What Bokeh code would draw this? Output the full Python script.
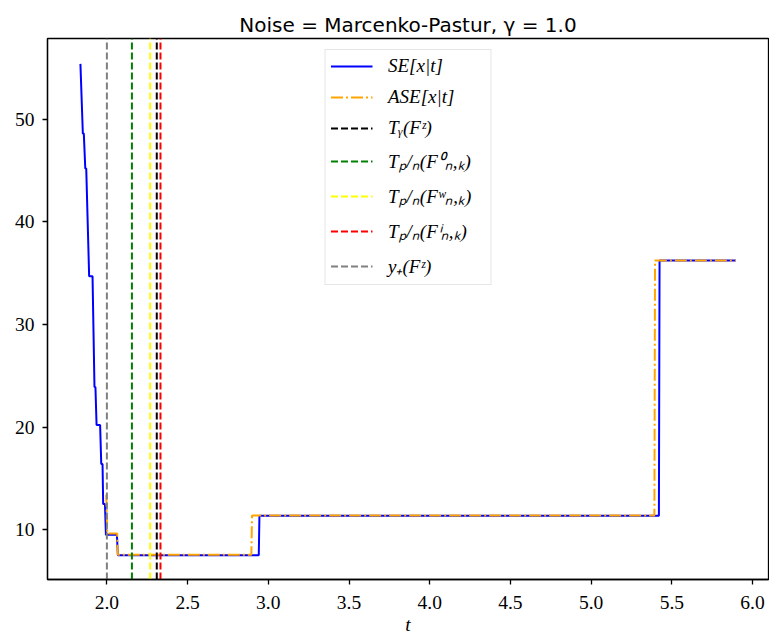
from bokeh.plotting import figure
from bokeh.models import Range1d, FixedTicker, Legend, LegendItem, NumeralTickFormatter
from bokeh.embed import file_html
from bokeh.resources import INLINE

# SE[x|t] curve (vertices)
se_t = [1.836, 1.851, 1.857, 1.866, 1.872, 1.890, 1.911, 1.923, 1.929, 1.936,
        1.958, 1.965, 1.973, 1.977, 1.988, 1.994, 2.062, 2.068, 2.941, 2.945,
        5.420, 5.424, 5.897]
se_y = [55.4, 48.6, 48.6, 45.2, 45.2, 34.7, 34.7, 23.9, 23.9, 20.2,
        20.2, 16.4, 16.4, 12.5, 12.5, 9.49, 9.49, 7.5, 7.5, 11.35,
        11.35, 36.23, 36.23]

# ASE[x|t] curve
ase_t = [1.996, 2.002, 2.064, 2.068, 2.895, 2.899, 5.392, 5.396, 5.897]
ase_y = [13.4, 9.62, 9.62, 7.55, 7.55, 11.38, 11.38, 36.23, 36.23]

# thresholds (vertical lines)
thr_labels = ["Tᵧ(Fᶻ)", "Tₚ/ₙ(F⁰ₙ,ₖ)", "Tₚ/ₙ(Fʷₙ,ₖ)", "Tₚ/ₙ(Fⁱₙ,ₖ)", "y₊(Fᶻ)"]
thr_values = [2.309, 2.155, 2.268, 2.332, 2.0]
thr_colors = ["black", "green", "yellow", "red", "gray"]

x_ticks = [2.0, 2.5, 3.0, 3.5, 4.0, 4.5, 5.0, 5.5, 6.0]
y_ticks = [10, 20, 30, 40, 50]
x_lim = (1.632, 6.099)
y_lim = (5.14, 57.87)

serif = "Liberation Serif"

p = figure(width=769, height=638, output_backend="svg", toolbar_location=None,
           x_range=Range1d(*x_lim), y_range=Range1d(*y_lim),
           min_border_left=47, min_border_right=1, min_border_top=38, min_border_bottom=59)

p.title.text = "Noise = Marcenko-Pastur, γ = 1.0"
p.title.align = "center"
p.title.text_font = "DejaVu Sans"
p.title.text_font_size = "20px"
p.title.text_font_style = "normal"
p.title.text_color = "black"
p.title.standoff = 4

p.grid.visible = False
p.outline_line_color = "black"
p.outline_line_width = 1.3
p.outline_line_alpha = 1.0

for ax in (p.xaxis[0], p.yaxis[0]):
    ax.axis_line_color = "black"
    ax.axis_line_width = 1.3
    ax.major_tick_line_color = "black"
    ax.major_tick_line_width = 1.3
    ax.major_tick_out = 5
    ax.major_tick_in = 0
    ax.minor_tick_line_color = None
    ax.major_label_text_font = serif
    ax.major_label_text_font_size = "19.5px"
    ax.major_label_text_color = "black"

p.xaxis.ticker = FixedTicker(ticks=x_ticks)
p.yaxis.ticker = FixedTicker(ticks=y_ticks)
p.xaxis.formatter = NumeralTickFormatter(format="0.0")
p.yaxis.formatter = NumeralTickFormatter(format="0")
p.xaxis.major_label_standoff = 11
p.yaxis.major_label_standoff = 8
p.xaxis.axis_label = "t"
p.xaxis.axis_label_text_font = serif
p.xaxis.axis_label_text_font_style = "italic"
p.xaxis.axis_label_text_font_size = "19.5px"
p.xaxis.axis_label_text_color = "black"
p.xaxis.axis_label_standoff = 2

r_se = p.line(se_t, se_y, line_color="blue", line_width=2)
r_ase = p.line(ase_t, ase_y, line_color="orange", line_width=2, line_dash="12 3 2 3")

items = [LegendItem(label="SE[x|t]", renderers=[r_se]),
         LegendItem(label="ASE[x|t]", renderers=[r_ase])]
for lab, v, c in zip(thr_labels, thr_values, thr_colors):
    r = p.segment(x0=[v], y0=[y_lim[0]], x1=[v], y1=[y_lim[1]],
                  line_color=c, line_width=2, line_dash="7 3")
    items.append(LegendItem(label=lab, renderers=[r]))

legend = Legend(items=items, location="top_center")
legend.label_text_font = serif
legend.label_text_font_style = "italic"
legend.label_text_font_size = "19px"
legend.label_text_color = "black"
legend.glyph_width = 42
legend.glyph_height = 22
legend.label_width = 97
legend.spacing = 9
legend.padding = 5
legend.margin = 11
legend.label_standoff = 16
legend.border_line_color = "#cccccc"
legend.border_line_width = 1.3
legend.background_fill_alpha = 0.8
p.add_layout(legend)

open("out.html", "w").write(file_html(p, INLINE))
